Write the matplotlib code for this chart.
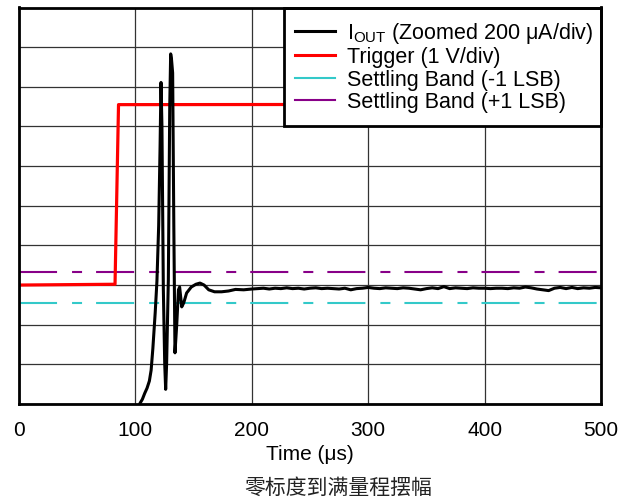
import matplotlib
matplotlib.use('Agg')
import matplotlib.pyplot as plt
from matplotlib.lines import Line2D
from matplotlib.patches import Rectangle
import numpy as np

# ---------------- data ----------------
time_iout = [100, 104, 106, 108, 110, 112, 113.5, 115, 116, 117, 118.5, 120, 121.2, 122, 122.8,
             124, 125.2, 126, 126.8, 128.3, 129.5, 130.3, 131, 132, 133, 134, 135.5, 137, 138,
             139.8, 141.5, 144, 148, 152, 155.5, 159, 163, 168, 174, 180, 186, 193, 200,
             205, 210, 215, 220, 225, 230, 235, 240, 245, 250, 255, 260, 265, 270, 275, 280,
             285, 290, 295, 300, 305, 310, 315, 320, 325, 330, 335, 340, 345, 350, 355, 360,
             365, 370, 375, 380, 385, 390, 395, 400, 405, 410, 415, 420, 425, 430, 435, 440,
             445, 450, 455, 460, 465, 470, 475, 480, 485, 490, 495, 500]
iout = [-0.3, 0.02, 0.12, 0.27, 0.4, 0.58, 0.85, 1.4, 1.85, 2.3, 3.1, 4.5, 6.5, 8.11, 7.0,
        2.9, 1.0, 0.37, 1.0, 3.13, 7.5, 8.83, 8.7, 8.35, 4.5, 1.29, 2.0, 2.88, 2.95,
        2.45, 2.55, 2.8, 2.95, 3.02, 3.05, 3.0, 2.88, 2.83, 2.83, 2.85, 2.89, 2.88, 2.9,
        2.91, 2.92, 2.90, 2.92, 2.91, 2.93, 2.91, 2.92, 2.90, 2.92, 2.93, 2.91, 2.92, 2.91, 2.90, 2.92,
        2.88, 2.91, 2.92, 2.94, 2.92, 2.91, 2.93, 2.92, 2.91, 2.93, 2.92, 2.90, 2.88, 2.91, 2.93, 2.91,
        2.96, 2.91, 2.93, 2.92, 2.91, 2.93, 2.92, 2.92, 2.91, 2.92, 2.92, 2.91, 2.93, 2.92, 2.95, 2.93,
        2.90, 2.88, 2.86, 2.92, 2.94, 2.91, 2.94, 2.91, 2.93, 2.92, 2.94, 2.93]

time_trig = [0, 82.5, 85.5, 500]
trigger = [3.0, 3.02, 7.55, 7.56]

band_time = [0, 500]
band_minus = [2.555, 2.555]
band_plus = [3.33, 3.33]

x_ticks = [0, 100, 200, 300, 400, 500]
labels = [r'I$_{\mathrm{OUT}}$ (Zoomed 200 μA/div)', 'Trigger (1 V/div)',
          'Settling Band (-1 LSB)', 'Settling Band (+1 LSB)']
colors = ['#000000', '#ff0000', '#33c9c9', '#880088']

# ---------------- style ----------------
plt.rcParams['font.family'] = ['Liberation Sans', 'DejaVu Sans']
plt.rcParams['mathtext.fontset'] = 'custom'
plt.rcParams['mathtext.rm'] = 'Liberation Sans'
plt.rcParams['mathtext.it'] = 'Liberation Sans:italic'
plt.rcParams['lines.scale_dashes'] = False

W, H = 632, 501
L, R, T, B = 19, 601, 7.5, 404
fig = plt.figure(figsize=(W/100, H/100), dpi=100)
ax = fig.add_axes([L/W, 1-B/H, (R-L)/W, (B-T)/H])

def ax_x(px):
    return (px - L) / (R - L)

def ax_y(py):
    return (B - py) / (B - T)

dash = (0, (27.4, 10.8, 7.2, 10.1))
ax.plot(band_time, band_plus, color=colors[3], lw=1.5, linestyle=dash, zorder=3)
ax.plot(band_time, band_minus, color=colors[2], lw=1.5, linestyle=dash, zorder=3)
ax.plot(time_trig, trigger, color=colors[1], lw=2.3, zorder=4)
ax.plot(time_iout, iout, color=colors[0], lw=2.2, zorder=5)

ax.set_xlim(0, 500)
ax.set_ylim(0, 10)
ax.set_xticks(x_ticks)
ax.set_xticklabels([str(v) for v in x_ticks], fontsize=15)
ax.set_yticks(np.arange(0, 11, 1))
ax.set_yticklabels([])
ax.tick_params(length=0, pad=12)
ax.grid(True, color='#333333', lw=0.9)
ax.set_axisbelow(True)
for s in ax.spines.values():
    s.set_linewidth(2.0)
    s.set_zorder(12)
ax.set_xlabel('Time (μs)', fontsize=15, labelpad=4)

# legend box
box = Rectangle((ax_x(283.5), ax_y(126)), ax_x(601) - ax_x(283.5), ax_y(7.5) - ax_y(126),
                transform=ax.transAxes, facecolor='white', edgecolor='black', lw=2.0,
                zorder=9, clip_on=False)
ax.add_patch(box)

handles = [Line2D([0], [0], color=c, lw=(2.2 if i < 2 else 1.5)) for i, c in enumerate(colors)]
leg = ax.legend(handles, labels, loc='upper left', bbox_to_anchor=(ax_x(295), ax_y(20.5)),
                borderaxespad=0, fontsize=15.5, frameon=False, borderpad=0,
                handletextpad=0.56, handlelength=1.86, labelspacing=0.07)
leg.set_zorder(10)

fig.text(338/W, 1-488/H, '零标度到满量程摆幅', ha='center', va='center',
         family=['Noto Sans CJK SC', 'DejaVu Sans'], fontsize=15, color='#222222')

fig.savefig('out.png', dpi=100)
